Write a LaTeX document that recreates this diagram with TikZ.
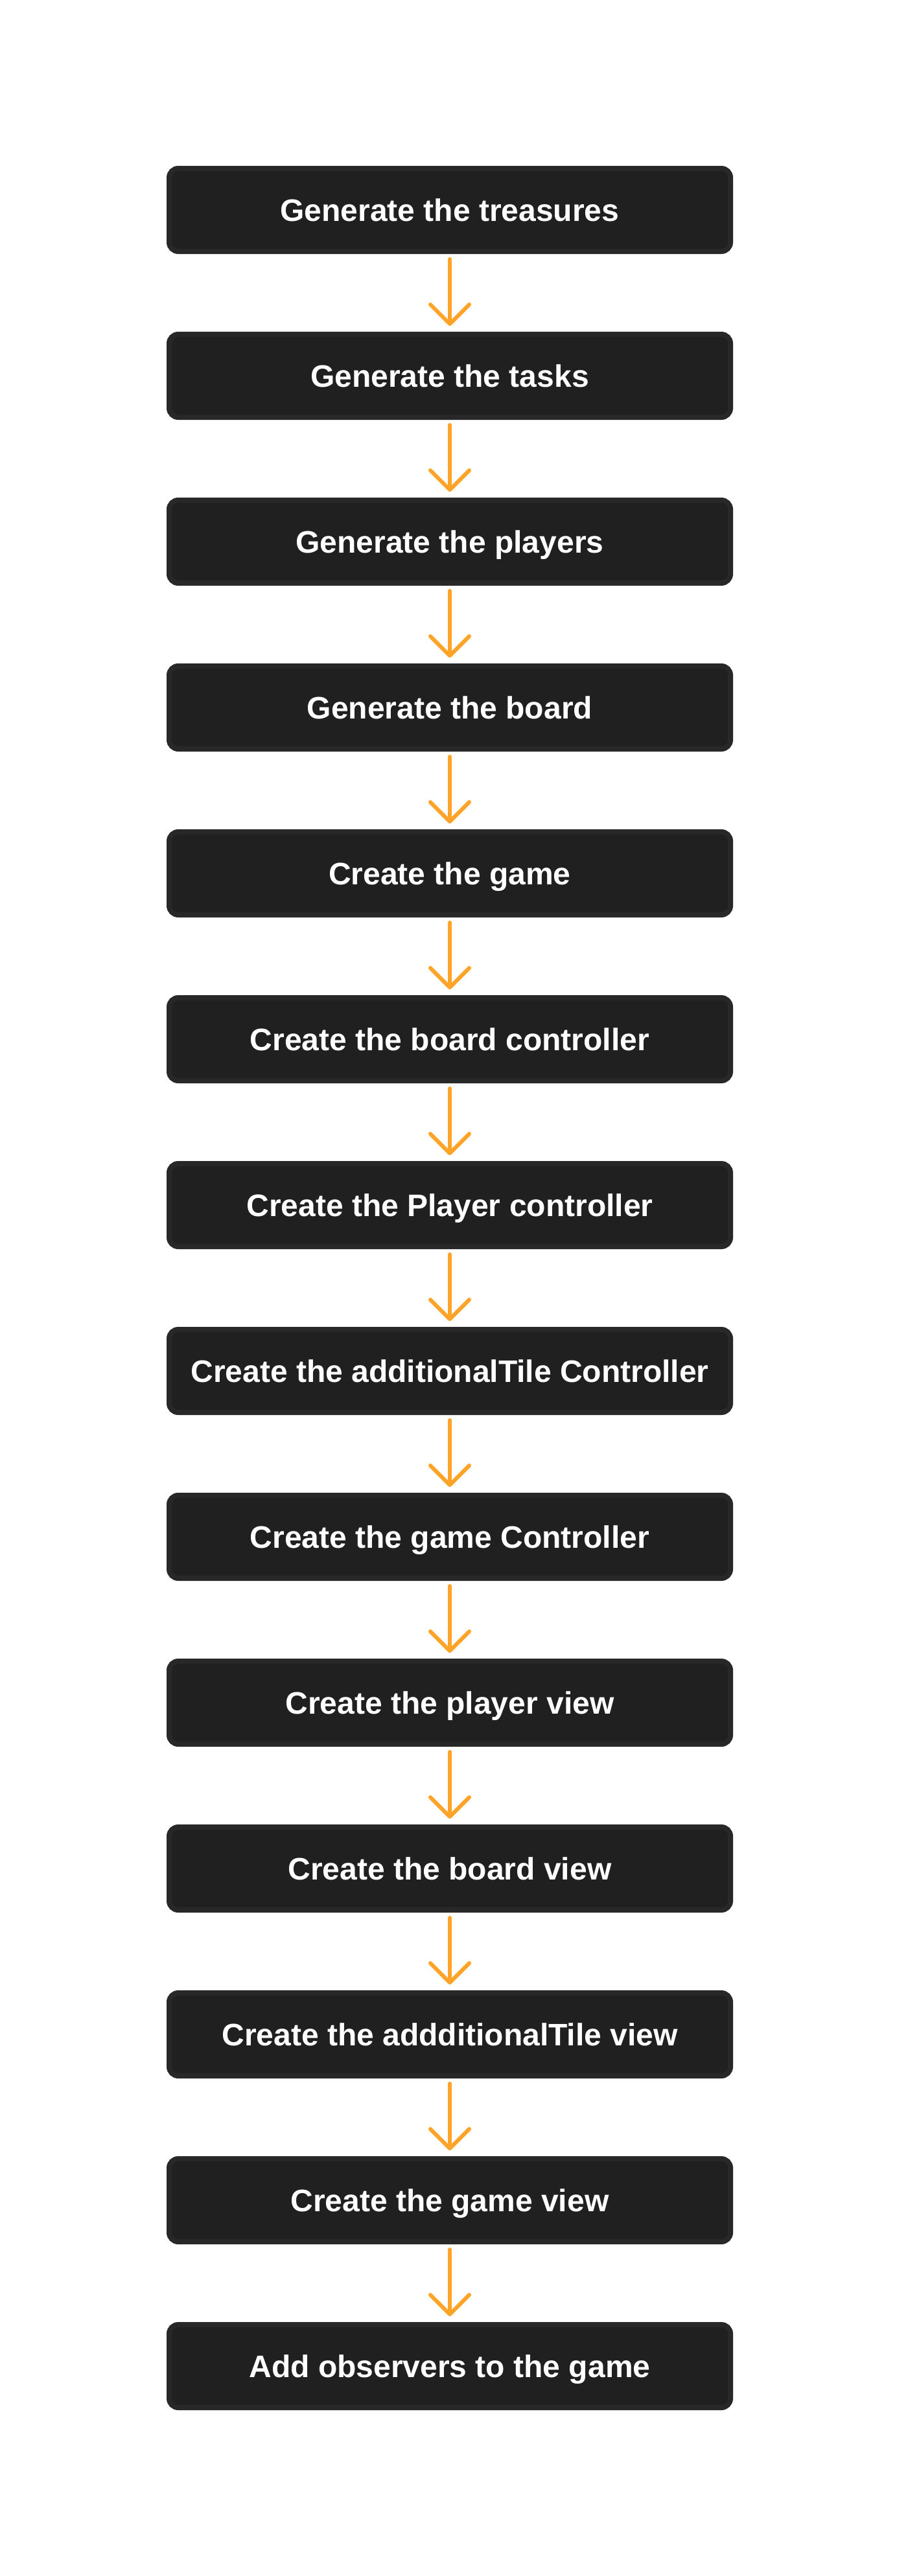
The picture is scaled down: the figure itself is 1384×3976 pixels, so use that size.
\documentclass[tikz,border=0pt]{standalone}
\usepackage{fontspec}
\setmainfont{Liberation Sans}
\usetikzlibrary{positioning,arrows.meta}
\definecolor{boxfill}{RGB}{32,32,32}
\definecolor{boxrim}{RGB}{40,40,40}
\definecolor{arroworange}{RGB}{255,164,40}
\tikzset{
        task/.style={rectangle, rounded corners=14pt, fill=boxfill, draw=boxrim, line width=8pt,
                minimum width=866pt, minimum height=128pt, text=white, text height=34pt, text depth=0pt,
                font=\fontsize{48}{52}\selectfont\bfseries},
        link/.style={draw=arroworange, line width=6pt, line cap=round,
                -{Straight Barb[length=30pt,width=60pt,line cap=round,line join=round]},
                shorten <=8pt, shorten >=9pt}
    }
\begin{document}
\begin{tikzpicture}[node distance=120pt]
\useasboundingbox[fill=white] (0,0) rectangle (1384pt,-3976pt);
\node(T1)[task] at (694pt,-324pt) {Generate the treasures};
\node(T2)[task, below=of T1] {Generate the tasks};
\node(T3)[task, below=of T2] {Generate the players};
\node(T4)[task, below=of T3] {Generate the board};
\node(T5)[task, below=of T4] {Create the game};
\node(T6)[task, below=of T5] {Create the board controller};
\node(T7)[task, below=of T6] {Create the Player controller};
\node(T8)[task, below=of T7] {Create the additionalTile Controller};
\node(T9)[task, below=of T8] {Create the game Controller};
\node(T10)[task, below=of T9] {Create the player view};
\node(T11)[task, below=of T10] {Create the board view};
\node(T12)[task, below=of T11] {Create the addditionalTile view};
\node(T13)[task, below=of T12] {Create the game view};
\node(T14)[task, below=of T13] {Add observers to the game};
% arrows between the steps
\foreach \i [count=\j from 2] in {1,...,13}
        \draw[link] (T\i) -- (T\j);
\end{tikzpicture}
\end{document}
